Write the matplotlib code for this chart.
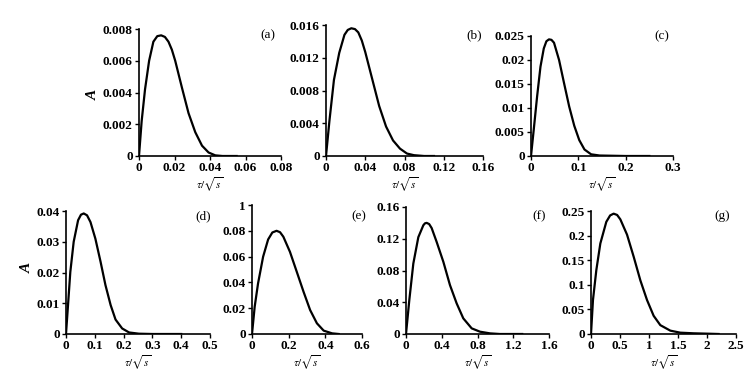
import matplotlib
matplotlib.use("Agg")
import matplotlib.pyplot as plt

plt.rcParams['font.family'] = ['Liberation Serif', 'DejaVu Serif']
plt.rcParams['mathtext.fontset'] = 'stix'

W, H = 750, 384

# ---- data ----
a_x = [0, 0.0015, 0.0034, 0.0057, 0.0081, 0.0103, 0.0125, 0.0146, 0.0166, 0.0185, 0.0204, 0.0242, 0.0279, 0.0317, 0.0355, 0.0392, 0.043, 0.047, 0.055]
a_y = [0, 0.0022, 0.0042, 0.006, 0.0072, 0.00755, 0.0076, 0.0075, 0.0072, 0.0067, 0.006, 0.0043, 0.0027, 0.0015, 0.00065, 0.00022, 0.00004, 0, 0]

b_x = [0, 0.0035, 0.0081, 0.0135, 0.0188, 0.0222, 0.0258, 0.0295, 0.0329, 0.0365, 0.04, 0.0471, 0.0542, 0.0612, 0.0683, 0.0754, 0.0825, 0.0896, 0.1, 0.11]
b_y = [0, 0.0043, 0.0093, 0.0126, 0.0148, 0.0154, 0.0156, 0.0155, 0.0151, 0.0141, 0.0127, 0.0094, 0.0061, 0.0036, 0.0019, 0.0009, 0.0003, 0.0001, 0, 0]

c_x = [0, 0.0057, 0.0129, 0.02, 0.027, 0.0325, 0.0379, 0.0432, 0.0486, 0.0593, 0.07, 0.0807, 0.0914, 0.102, 0.113, 0.127, 0.145, 0.2, 0.25]
c_y = [0, 0.0054, 0.0124, 0.0186, 0.0224, 0.0239, 0.0243, 0.0242, 0.0236, 0.02, 0.0151, 0.0103, 0.0063, 0.0033, 0.00135, 0.00035, 0.0001, 0, 0]

d_x = [0, 0.007, 0.015, 0.0267, 0.042, 0.052, 0.0616, 0.073, 0.085, 0.102, 0.12, 0.137, 0.155, 0.172, 0.195, 0.219, 0.253, 0.3, 0.4]
d_y = [0, 0.0094, 0.0202, 0.03, 0.037, 0.0388, 0.0392, 0.0386, 0.0364, 0.031, 0.0235, 0.0159, 0.0094, 0.0047, 0.0018, 0.0005, 0.0001, 0, 0]

e_x = [0, 0.0147, 0.033, 0.0606, 0.088, 0.111, 0.134, 0.153, 0.171, 0.207, 0.244, 0.281, 0.317, 0.354, 0.391, 0.437, 0.473]
e_y = [0, 0.0212, 0.0392, 0.0599, 0.0733, 0.0787, 0.08, 0.0789, 0.0754, 0.0637, 0.0483, 0.0328, 0.0186, 0.0083, 0.0026, 0.0005, 0]

f_x = [0, 0.037, 0.082, 0.138, 0.194, 0.212, 0.231, 0.259, 0.287, 0.343, 0.418, 0.492, 0.567, 0.641, 0.735, 0.828, 0.94, 1.05, 1.3]
f_y = [0, 0.0427, 0.0888, 0.122, 0.137, 0.1394, 0.14, 0.1385, 0.1335, 0.116, 0.0909, 0.0616, 0.0385, 0.0197, 0.0071, 0.0029, 0.0008, 0, 0]

g_x = [0, 0.034, 0.092, 0.161, 0.264, 0.33, 0.39, 0.45, 0.506, 0.621, 0.736, 0.851, 0.966, 1.08, 1.195, 1.368, 1.54, 1.77, 2.06, 2.2]
g_y = [0, 0.069, 0.13, 0.184, 0.228, 0.241, 0.2446, 0.242, 0.233, 0.202, 0.157, 0.109, 0.069, 0.037, 0.018, 0.0068, 0.0027, 0.0014, 0.0005, 0]

a_xticks = [0, 0.02, 0.04, 0.06, 0.08]; a_xlabels = ['0', '0.02', '0.04', '0.06', '0.08']
a_yticks = [0, 0.002, 0.004, 0.006, 0.008]; a_ylabels = ['0', '0.002', '0.004', '0.006', '0.008']
b_xticks = [0, 0.04, 0.08, 0.12, 0.16]; b_xlabels = ['0', '0.04', '0.08', '0.12', '0.16']
b_yticks = [0, 0.004, 0.008, 0.012, 0.016]; b_ylabels = ['0', '0.004', '0.008', '0.012', '0.016']
c_xticks = [0, 0.1, 0.2, 0.3]; c_xlabels = ['0', '0.1', '0.2', '0.3']
c_yticks = [0, 0.005, 0.01, 0.015, 0.02, 0.025]; c_ylabels = ['0', '0.005', '0.01', '0.015', '0.02', '0.025']
d_xticks = [0, 0.1, 0.2, 0.3, 0.4, 0.5]; d_xlabels = ['0', '0.1', '0.2', '0.3', '0.4', '0.5']
d_yticks = [0, 0.01, 0.02, 0.03, 0.04]; d_ylabels = ['0', '0.01', '0.02', '0.03', '0.04']
e_xticks = [0, 0.2, 0.4, 0.6]; e_xlabels = ['0', '0.2', '0.4', '0.6']
e_yticks = [0, 0.02, 0.04, 0.06, 0.08, 0.1]; e_ylabels = ['0', '0.02', '0.04', '0.06', '0.08', '1']
f_xticks = [0, 0.4, 0.8, 1.2, 1.6]; f_xlabels = ['0', '0.4', '0.8', '1.2', '1.6']
f_yticks = [0, 0.04, 0.08, 0.12, 0.16]; f_ylabels = ['0', '0.04', '0.08', '0.12', '0.16']
g_xticks = [0, 0.5, 1, 1.5, 2, 2.5]; g_xlabels = ['0', '0.5', '1', '1.5', '2', '2.5']
g_yticks = [0, 0.05, 0.1, 0.15, 0.2, 0.25]; g_ylabels = ['0', '0.05', '0.1', '0.15', '0.2', '0.25']

panel_names = ['(a)', '(b)', '(c)', '(d)', '(e)', '(f)', '(g)']

# ---- layout (pixel boxes: left, right, top, bottom) ----
boxes = [(139, 281, 29, 156), (326, 483, 25, 156), (531, 673, 36, 156),
         (66, 210, 211, 334), (252, 362, 205, 334), (406, 549, 207, 334), (591, 736, 211, 334)]
label_pos = [(268, 35), (474, 35), (662, 36), (203, 216), (359, 216), (539, 216), (722, 216)]

series = [(a_x, a_y, a_xticks, a_xlabels, a_yticks, a_ylabels),
          (b_x, b_y, b_xticks, b_xlabels, b_yticks, b_ylabels),
          (c_x, c_y, c_xticks, c_xlabels, c_yticks, c_ylabels),
          (d_x, d_y, d_xticks, d_xlabels, d_yticks, d_ylabels),
          (e_x, e_y, e_xticks, e_xlabels, e_yticks, e_ylabels),
          (f_x, f_y, f_xticks, f_xlabels, f_yticks, f_ylabels),
          (g_x, g_y, g_xticks, g_xlabels, g_yticks, g_ylabels)]

fig = plt.figure(figsize=(W / 100, H / 100), dpi=100)

for (l, r, t, b), (xs, ys, xt, xl, yt, yl), name, (lx, ly) in zip(boxes, series, panel_names, label_pos):
    ax = fig.add_axes([l / W, 1 - b / H, (r - l) / W, (b - t) / H])
    ax.plot(xs, ys, color='black', lw=1.6, solid_joinstyle='round')
    ax.set_xlim(xt[0], xt[-1])
    ax.set_ylim(yt[0], yt[-1])
    ax.set_xticks(xt)
    ax.set_xticklabels(xl)
    ax.set_yticks(yt)
    ax.set_yticklabels(yl)
    for s in ['top', 'right']:
        ax.spines[s].set_visible(False)
    for s in ['left', 'bottom']:
        ax.spines[s].set_linewidth(1.2)
        ax.spines[s].set_clip_on(False)
    ax.tick_params(direction='out', length=3, width=1.0, labelsize=9.5, pad=1.5)
    for lab in ax.get_xticklabels() + ax.get_yticklabels():
        lab.set_fontweight('bold')
    ax.set_xlabel(r'$\tau/\sqrt{s}$', fontsize=8, labelpad=1)
    ax.patch.set_alpha(0)
    fig.text(lx / W, 1 - ly / H, name, ha='center', va='center', fontsize=9.5)

fig.text(93 / W, 1 - 95 / H, 'A', rotation=90, ha='center', va='center',
         fontsize=11, fontweight='bold', fontstyle='italic')
fig.text(27 / W, 1 - 268 / H, 'A', rotation=90, ha='center', va='center',
         fontsize=11, fontweight='bold', fontstyle='italic')

fig.savefig('out.png', dpi=100)
